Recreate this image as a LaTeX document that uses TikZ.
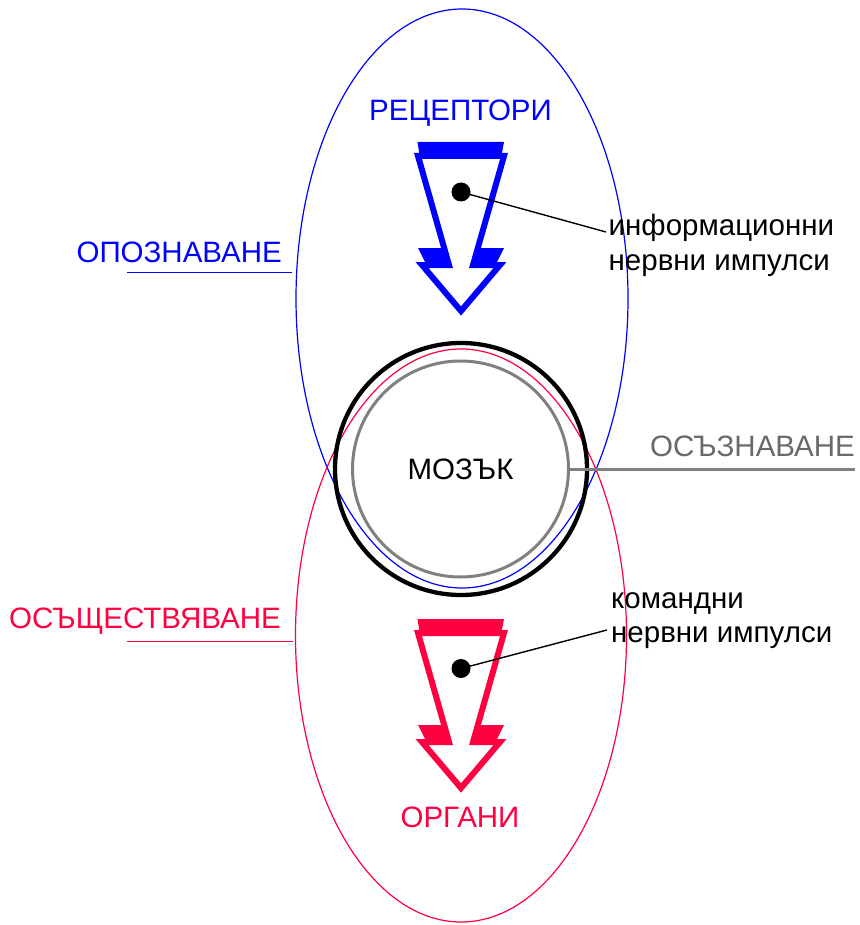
\documentclass[tikz,border=0pt]{standalone}
\usepackage{fontspec}
\setmainfont{Liberation Sans}
\usetikzlibrary{shapes.geometric}
\definecolor{cblue}{RGB}{0,0,255}
\definecolor{cred}{RGB}{255,0,64}
\definecolor{cgray}{RGB}{128,128,128}
\definecolor{cgraytxt}{RGB}{105,105,105}
\begin{document}
\begin{tikzpicture}[x=1pt,y=-1pt,
  lbl/.style={inner sep=0pt, font=\fontsize{29.5}{34}\selectfont},
  oval/.style={draw, ellipse, line width=1.2pt, inner sep=0pt},
  dotnode/.style={circle, fill=black, inner sep=0pt, minimum size=19pt},
  conn/.style={draw=black, line width=1.4pt},
  uline/.style={line width=1.4pt},
  arrowframe/.style={line width=6pt, fill=white, line join=miter}]
\useasboundingbox (0,0) rectangle (859,925);

% ellipses
\node[oval, draw=cblue, minimum width=332pt, minimum height=579pt] (opoz) at (462,298.5) {};
\node[oval, draw=cred, minimum width=331pt, minimum height=573pt] (osysht) at (461,635.5) {};

% brain circles
\node[circle, draw=black, line width=4.3pt, minimum size=252pt, inner sep=0pt] (brain) at (461,469) {};
\node[circle, draw=cgray, line width=3pt, minimum size=216pt, inner sep=0pt, lbl] (inner) at (460.5,469) {МОЗЪК};

% awareness line
\coordinate (oszend) at (855,469);
\draw[cgray, line width=3pt] (inner.east) -- (oszend);

% arrows
\foreach \dy/\col in {0/cblue, 477/cred}{
  \begin{scope}[shift={(0,\dy)}]
    \fill[\col] (417.5,142) -- (504,142) -- (501,158) -- (420,158) -- cycle;
    \fill[\col] (418,248) -- (447,248) -- (452,266) -- (427,266) -- cycle;
    \fill[\col] (504,248) -- (475,248) -- (470,266) -- (495,266) -- cycle;
    \draw[arrowframe, draw=\col] (418,156) -- (504,156) -- (473,265) -- (500,265)
      -- (461,311) -- (422,265) -- (449,265) -- cycle;
  \end{scope}
}

% dots and connectors
\node[dotnode] (d1) at (461,192) {};
\node[dotnode] (d2) at (461,668.5) {};
\coordinate (c1) at (606,232);
\coordinate (c2) at (607,630);
\draw[conn] (d1.center) -- (c1);
\draw[conn] (d2.center) -- (c2);

% labels
\node[lbl, text=cblue, anchor=base] (rec) at (460.5,121) {РЕЦЕПТОРИ};
\node[lbl, text=cblue, anchor=base east] (opozl) at (282,262) {ОПОЗНАВАНЕ};
\node[lbl, text=cgraytxt, anchor=base east] (oszl) at (855,456) {ОСЪЗНАВАНЕ};
\node[lbl, text=cred, anchor=base east] (osyl) at (281,628) {ОСЪЩЕСТВЯВАНЕ};
\node[lbl, text=cred, anchor=base] (org) at (460,827) {ОРГАНИ};
\node[lbl, anchor=base west] (inf1) at (608.5,236) {информационни};
\node[lbl, anchor=base west] (inf2) at (608.5,270) {нервни импулси};
\node[lbl, anchor=base west] (kom1) at (611,608) {командни};
\node[lbl, anchor=base west] (kom2) at (611,642) {нервни импулси};

% underlines
\coordinate (u1a) at (127,272.5);
\coordinate (u1b) at (292,272.5);
\coordinate (u2a) at (127,641.5);
\coordinate (u2b) at (293,641.5);
\draw[uline, cblue] (u1a) -- (u1b);
\draw[uline, cred] (u2a) -- (u2b);
\end{tikzpicture}
\end{document}
